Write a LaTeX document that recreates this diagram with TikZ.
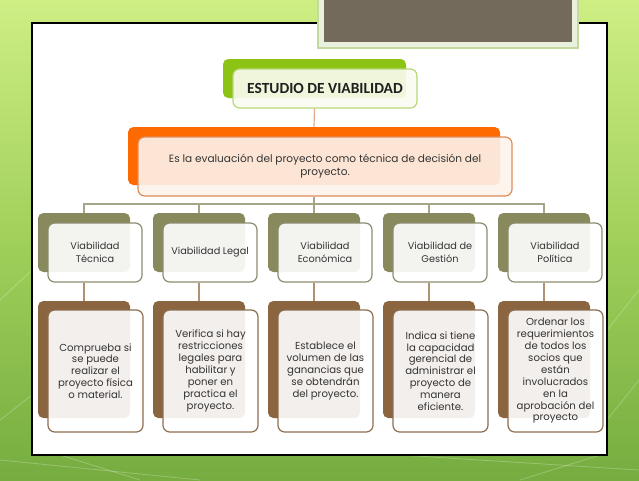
\documentclass[tikz,border=0pt]{standalone}
\usepackage{fontspec}
\setmainfont{Poppins}
\newfontfamily\titlefont{Carlito}
\newcommand\pxu{0.75pt}
\definecolor{bgtop}{RGB}{206,238,132}
\definecolor{bgmid}{RGB}{160,208,90}
\definecolor{bgbot}{RGB}{118,172,64}
\definecolor{graybox}{RGB}{116,106,92}
\definecolor{grayframe}{RGB}{234,240,222}
\definecolor{grayframeline}{RGB}{196,216,160}
\definecolor{greenback}{RGB}{140,195,20}
\definecolor{greenline}{RGB}{185,214,120}
\definecolor{greenfill}{RGB}{250,252,242}
\definecolor{orangeback}{RGB}{255,106,0}
\definecolor{orangeline}{RGB}{222,140,90}
\definecolor{orangefill}{RGB}{253,243,237}
\definecolor{oliveback}{RGB}{137,137,94}
\definecolor{oliveline}{RGB}{140,140,110}
\definecolor{brownback}{RGB}{138,101,63}
\definecolor{brownline}{RGB}{140,110,80}
\definecolor{txt}{RGB}{52,52,52}
\definecolor{conn1}{RGB}{226,170,140}
\definecolor{conn2}{RGB}{165,165,135}
\definecolor{conn3}{RGB}{175,145,115}
\tikzset{
  backbox/.style={rounded corners=4pt, inner sep=0pt, draw=none},
  frontbox/.style={rounded corners=5pt, inner sep=0pt, line width=0.9pt,
    fill opacity=0.9, text opacity=1, align=center, text=txt},
  titleback/.style={backbox, fill=greenback, minimum width=183*\pxu, minimum height=39*\pxu},
  titlefront/.style={frontbox, draw=greenline, fill=greenfill, minimum width=184*\pxu, minimum height=39*\pxu,
    font=\titlefont\bfseries\fontsize{11.6}{13}\selectfont, text=black!88},
  orback/.style={backbox, fill=orangeback, minimum width=372*\pxu, minimum height=58*\pxu},
  orfront/.style={frontbox, draw=orangeline, fill=orangefill, minimum width=374*\pxu, minimum height=59*\pxu,
    font=\fontsize{7.9}{9.8}\selectfont},
  midback/.style={backbox, fill=oliveback, minimum width=92*\pxu, minimum height=59*\pxu},
  midfront/.style={frontbox, draw=oliveline, fill=white, minimum width=94*\pxu, minimum height=59*\pxu,
    font=\fontsize{7.3}{9.5}\selectfont},
  lowback/.style={backbox, fill=brownback, minimum width=92*\pxu, minimum height=117*\pxu},
  lowfront/.style={frontbox, draw=brownline, fill=white, minimum width=95*\pxu, minimum height=122*\pxu,
    font=\fontsize{7.6}{8.9}\selectfont},
  conn/.style={line width=0.9pt}
}
\begin{document}
\begin{tikzpicture}[x=0.75pt,y=-0.75pt]
\useasboundingbox (0,0) rectangle (639,480);
% background
\fill[top color=bgtop, bottom color=bgbot, middle color=bgmid] (0,0) rectangle (639,480);
\begin{scope}[white, opacity=0.25, line width=0.6pt]
  \draw (0,300) -- (32,270);
  \draw (0,420) -- (32,395);
  \draw (0,460) -- (200,480);
  \draw (60,455) -- (140,480);
  \draw (400,455) -- (639,470);
  \draw (607,330) -- (639,290);
  \draw (607,420) -- (639,380);
  \draw (520,480) -- (600,455);
\end{scope}
% panel
\draw[line width=0.9pt, fill=white] (32,23) rectangle (607,455);
% gray box at the top
\draw[grayframeline, fill=grayframe, line width=0.8pt] (318,-4) rectangle (578,48);
\fill[graybox] (324,-4) rectangle (572,42);

% title
\node[titleback] (tb) at (314.5,78.5) {};
\node[titlefront] (tf) at (325,88.5) {ESTUDIO DE VIABILIDAD};
% orange
\node[orback] (ob) at (314,156) {};
\node[orfront] (of) at (325,166.5) {Es la evaluación del proyecto como técnica de decisión del\\proyecto.};

% level 2
\node[midback] (b1) at (84,242.5) {};
\node[midback] (b2) at (199,242.5) {};
\node[midback] (b3) at (314,242.5) {};
\node[midback] (b4) at (429,242.5) {};
\node[midback] (b5) at (544,242.5) {};
\node[midfront] (f1) at (95,252.5) {Viabilidad\\Técnica};
\node[midfront] (f2) at (210,252.5) {Viabilidad Legal};
\node[midfront] (f3) at (325,252.5) {Viabilidad\\Económica};
\node[midfront] (f4) at (440,252.5) {Viabilidad de\\Gestión};
\node[midfront] (f5) at (555,252.5) {Viabilidad\\Política};

% level 3
\node[lowback] (c1) at (84,359.5) {};
\node[lowback] (c2) at (199,359.5) {};
\node[lowback] (c3) at (314,359.5) {};
\node[lowback] (c4) at (429,359.5) {};
\node[lowback] (c5) at (544,359.5) {};
\node[lowfront] (d1) at (95.5,371) {Comprueba si\\se puede\\realizar el\\proyecto física\\o material.};
\node[lowfront] (d2) at (210.5,371) {Verifica si hay\\restricciones\\legales para\\habilitar y\\poner en\\practica el\\proyecto.};
\node[lowfront] (d3) at (325.5,371) {Establece el\\volumen de las\\ganancias que\\se obtendrán\\del proyecto.};
\node[lowfront] (d4) at (440.5,371) {Indica si tiene\\la capacidad\\gerencial de\\administrar el\\proyecto de\\manera\\eficiente.};
\node[lowfront] (d5) at (555.5,371) {Ordenar los\\requerimientos\\de todos los\\socios que\\están\\involucrados\\en la\\aprobación del\\proyecto};

% connectors
\draw[conn, conn1] (tb |- tf.south) -- (ob.north);
\coordinate (bar) at (314,204);
\draw[conn, conn2] (ob |- of.south) -- (bar);
\foreach \i in {1,...,5} {
  \draw[conn, conn2] (b\i.north) |- (bar);
  \draw[conn, conn3] (b\i |- f\i.south) -- (c\i.north);
}
\end{tikzpicture}
\end{document}
